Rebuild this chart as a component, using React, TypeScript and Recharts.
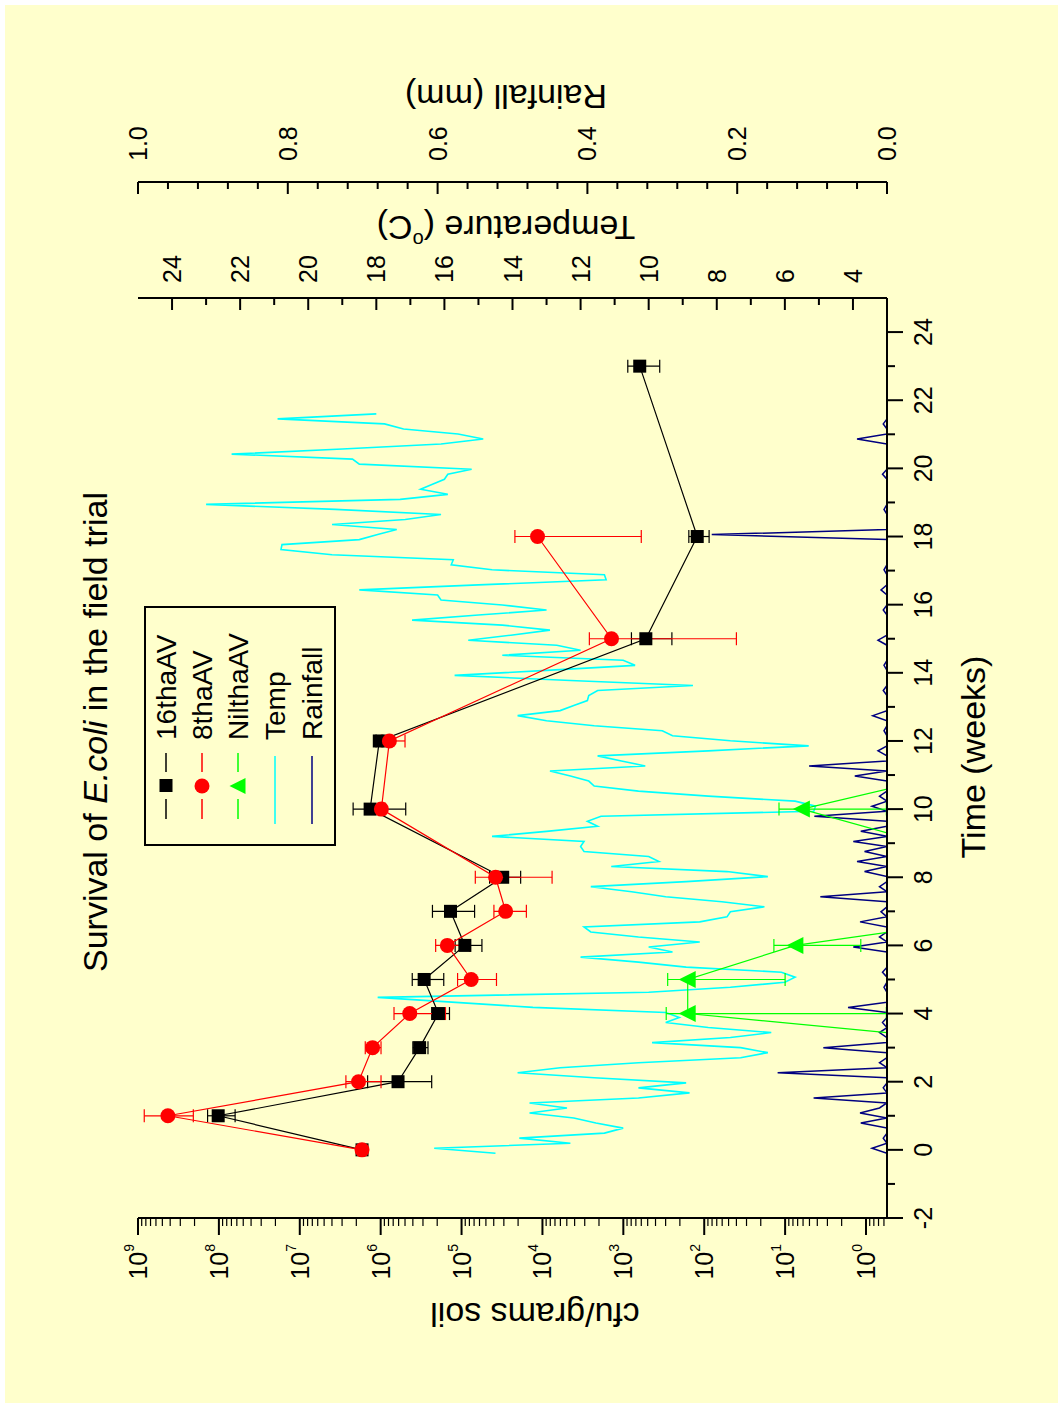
import React from 'react';
import { ComposedChart, Line, XAxis, YAxis, ErrorBar } from 'recharts';

const FONT = '"Liberation Sans", Arial, Helvetica, sans-serif';
const BG = '#FFFFCC';

// ---- cfu series (weeks, mean, lower error, upper error) ----
const weeks16 = [0, 1, 2, 3, 4, 5, 6, 7, 8, 10, 12, 15, 18, 23];
const cfu16 = [1.7e6, 1.02e8, 6.1e5, 3.3e5, 1.93e5, 2.9e5, 9.1e4, 1.37e5, 3.1e4, 1.35e6, 1.04e6, 527, 122, 627];
const err16Low = [null, 3.9e7, 3.76e5, 7e4, 5.2e4, 1.24e5, 3.5e4, 6.8e4, 1.24e4, 8.6e5, 1e5, 276, 35, 272];
const err16High = [null, 3.6e7, 8.4e5, 7e4, 4.1e4, 1.17e5, 2.9e4, 9.2e4, 1.4e4, 8.4e5, 1e5, 267, 33, 254];

const weeks8 = [0, 1, 2, 3, 4, 5, 6, 7, 8, 10, 12, 15, 18];
const cfu8 = [1.7e6, 4.27e8, 1.88e6, 1.26e6, 4.37e5, 7.6e4, 1.5e5, 2.85e4, 3.8e4, 9.8e5, 7.8e5, 1.4e3, 1.15e4];
const err8Low = [null, 2.2e8, 8.9e5, 2.7e5, 2.79e5, 3.9e4, 7.1e4, 1.27e4, 3.04e4, 1e5, 2.8e5, 1.36e3, 1.09e4];
const err8High = [null, 4.1e8, 8.1e5, 2.9e5, 2.47e5, 3.6e4, 5.9e4, 1.13e4, 2.96e4, 1e5, 2e5, 1.23e3, 1.04e4];

const weeksNil = [3, 4, 5, 6, 7, 9, 10, 11];
const cfuNil = [0.006, 160, 160, 7.46, 0.008, 0.19, 6.2, 0.1];
const errNilLow = [null, 159.44, 150, 6.3, null, null, 5.64, null];
const errNilHigh = [null, 135, 123, 6.3, null, null, 5.7, null];

// ---- daily weather series ----
const TEMP_START_WEEK = -0.1;
const TEMP_END_WEEK = 21.6;
const temperature = [
  14.5, 16.3, 12.3, 13.8, 11.3, 10.75, 11.55, 12.2, 13.5, 12.4,
  13.5, 10.3, 8.8, 10.3, 8.9, 11.6, 13.85, 12.6, 10.3, 7.3,
  6.5, 7.3, 9.9, 7.6, 6.4, 8.25, 9.5, 9.1, 9.5, 13.4,
  15.67, 17.96, 10.0, 7.6, 6.0, 5.7, 6.1, 8.9, 10.3, 12.0,
  9.3, 10.0, 8.5, 10.3, 11.7, 11.9, 8.5, 7.7, 7.6, 6.6,
  7.85, 9.5, 10.5, 11.7, 8.9, 6.5, 7.7, 11.1, 9.7, 10.0,
  11.9, 12.0, 11.9, 14.6, 13.0, 11.5, 11.8, 11.4, 5.15, 5.1,
  5.7, 8.25, 10.3, 11.6, 11.76, 12.3, 12.9, 10.1, 10.8, 11.5,
  8.25, 5.3, 7.6, 9.3, 9.6, 11.6, 13.0, 13.85, 12.6, 12.2,
  11.8, 11.76, 11.5, 8.7, 12.3, 15.7, 13.0, 10.4, 10.75, 14.3,
  12.0, 12.7, 15.3, 14.05, 12.9, 14.3, 16.95, 15.0, 13.0, 14.3,
  16.1, 16.2, 18.5, 15.0, 11.25, 11.3, 14.6, 15.8, 15.74, 19.3,
  20.8, 20.77, 18.5, 17.96, 17.4, 19.3, 17.15, 16.1, 19.2, 23.0,
  17.3, 15.9, 16.7, 16.35, 16.0, 15.9, 15.2, 18.5, 18.7, 22.25,
  19.0, 16.1, 14.86, 15.6, 17.2, 17.76, 20.9, 18.0,
];
const rainfall = [
  0, 0.02, 0, 0.005, 0, 0, 0.035, 0, 0.036, 0.01,
  0, 0.098, 0, 0.005, 0, 0, 0.146, 0, 0.01, 0,
  0, 0.085, 0, 0, 0.01, 0, 0.006, 0, 0, 0.052,
  0, 0, 0, 0.004, 0, 0, 0.006, 0, 0, 0,
  0, 0.045, 0, 0.01, 0, 0, 0.036, 0, 0.008, 0,
  0, 0.089, 0, 0.01, 0, 0, 0.03, 0, 0.04, 0,
  0.03, 0, 0.045, 0, 0.035, 0, 0, 0.097, 0, 0.02,
  0, 0.01, 0, 0, 0, 0.043, 0, 0.104, 0, 0,
  0.012, 0, 0, 0, 0.004, 0, 0, 0.019, 0, 0,
  0, 0, 0.005, 0, 0, 0, 0, 0.004, 0, 0,
  0, 0, 0.012, 0, 0, 0, 0, 0, 0.005, 0,
  0, 0, 0.008, 0, 0, 0, 0.004, 0, 0, 0,
  0, 0, 0, 0.234, 0, 0, 0, 0, 0.004, 0,
  0, 0, 0, 0, 0, 0.006, 0, 0, 0, 0,
  0, 0, 0.04, 0, 0, 0.005, 0, 0,
];

// ---- axis ticks ----
const timeMajor = [-2, 0, 2, 4, 6, 8, 10, 12, 14, 16, 18, 20, 22, 24];
const timeMinor = [-1, 1, 3, 5, 7, 9, 11, 13, 15, 17, 19, 21, 23];
const cfuExponents = [0, 1, 2, 3, 4, 5, 6, 7, 8, 9];
const cfuMinorMultipliers = [2, 3, 4, 5, 6, 7, 8, 9];
const tempMajor = [4, 6, 8, 10, 12, 14, 16, 18, 20, 22, 24];
const tempMinor = [5, 7, 9, 11, 13, 15, 17, 19, 21, 23];
const rainMajor = [0, 0.2, 0.4, 0.6, 0.8, 1.0];
const rainMinor = [0.04, 0.08, 0.12, 0.16, 0.24, 0.28, 0.32, 0.36, 0.44, 0.48, 0.52, 0.56, 0.64, 0.68, 0.72, 0.76, 0.84, 0.88, 0.92, 0.96];

const TIME_DOMAIN: [number, number] = [-2, 25];
const CFU_DOMAIN: [number, number] = [0.55, 1e9];
const TEMP_DOMAIN: [number, number] = [3, 25];
const RAIN_DOMAIN: [number, number] = [0, 1];

// ---- tables built from the arrays ----
const timeTicks = [...timeMajor, ...timeMinor].sort((a, b) => a - b);
const cfuTicks: number[] = [];
for (let e = -1; e <= 8; e++) {
  cfuMinorMultipliers.forEach((m) => {
    const v = m * Math.pow(10, e);
    if (v >= CFU_DOMAIN[0] && v <= CFU_DOMAIN[1]) cfuTicks.push(v);
  });
}
cfuExponents.forEach((e) => cfuTicks.push(Math.pow(10, e)));
cfuTicks.sort((a, b) => a - b);
const tempTicks = [...tempMajor, ...tempMinor].sort((a, b) => a - b);
const rainTicks = [...rainMajor, ...rainMinor].sort((a, b) => a - b);

const build = (w: number[], v: number[], lo: (number | null)[], hi: (number | null)[]) =>
  w.map((week, i) => ({ week, v: v[i], err: lo[i] == null || hi[i] == null ? null : [lo[i], hi[i]] }));
const data16 = build(weeks16, cfu16, err16Low, err16High);
const data8 = build(weeks8, cfu8, err8Low, err8High);
const dataNil = build(weeksNil, cfuNil, errNilLow, errNilHigh);
const dayStep = (TEMP_END_WEEK - TEMP_START_WEEK) / (temperature.length - 1);
const tempData = temperature.map((t, i) => ({ week: TEMP_START_WEEK + i * dayStep, temp: t }));
const rainData = rainfall.map((r, i) => ({ week: TEMP_START_WEEK + i * dayStep, rain: r }));

const isIn = (arr: number[], v: number) => arr.some((a) => Math.abs(a - v) < 1e-9);

// ---- tick renderers ----
const TimeTick = (props: any) => {
  const { x, y, payload } = props;
  const v = payload.value;
  const major = isIn(timeMajor, v);
  return (
    <g>
      <line x1={x} x2={x} y1={y} y2={y + (major ? 16 : 8)} stroke="#000" strokeWidth={2} />
      {major && (
        <text x={x} y={y + 45} textAnchor="middle" fontSize={25} fontFamily={FONT} fill="#000">
          {v}
        </text>
      )}
    </g>
  );
};

const TopTick = (props: any) => {
  const { x, y, payload } = props;
  const major = isIn(timeMajor, payload.value);
  return <line x1={x} x2={x} y1={y} y2={y + (major ? 7 : 4)} stroke="#000" strokeWidth={1.5} />;
};

const CfuTick = (props: any) => {
  const { x, y, payload } = props;
  const v = payload.value;
  const e = Math.log10(v);
  const major = Math.abs(e - Math.round(e)) < 1e-6;
  return (
    <g>
      <line x1={x} x2={x - (major ? 17 : 8)} y1={y} y2={y} stroke="#000" strokeWidth={major ? 2 : 1.2} />
      {major && (
        <text x={x - 26} y={y + 9} textAnchor="end" fontSize={25} fontFamily={FONT} fill="#000">
          10<tspan dy={-13} fontSize={14}>{Math.round(e)}</tspan>
        </text>
      )}
    </g>
  );
};

const TempTick = (props: any) => {
  const { x, y, payload } = props;
  const v = payload.value;
  const major = isIn(tempMajor, v);
  return (
    <g>
      <line x1={x} x2={x - (major ? 12 : 7)} y1={y} y2={y} stroke="#000" strokeWidth={2} />
      {major && (
        <text x={x + 15} y={y + 9} textAnchor="start" fontSize={25} fontFamily={FONT} fill="#000">
          {v}
        </text>
      )}
    </g>
  );
};

const RainTick = (props: any) => {
  const { x, y, payload } = props;
  const v = payload.value;
  const major = isIn(rainMajor, v);
  return (
    <g>
      <line x1={x} x2={x - (major ? 12 : 7)} y1={y} y2={y} stroke="#000" strokeWidth={2} />
      {major && (
        <text x={x + 21} y={y + 9} textAnchor="start" fontSize={25} fontFamily={FONT} fill="#000">
          {v.toFixed(1)}
        </text>
      )}
    </g>
  );
};

// ---- markers ----
const SquareDot = (props: any) => {
  const { cx, cy, index } = props;
  if (!Number.isFinite(cx) || !Number.isFinite(cy)) return <g key={index} />;
  return <rect key={index} x={cx - 6.5} y={cy - 6.5} width={13} height={13} fill="#000" />;
};
const CircleDot = (props: any) => {
  const { cx, cy, index } = props;
  if (!Number.isFinite(cx) || !Number.isFinite(cy)) return <g key={index} />;
  return <circle key={index} cx={cx} cy={cy} r={7.5} fill="#FF0000" />;
};
const TriangleDot = (props: any) => {
  const { cx, cy, index } = props;
  if (!Number.isFinite(cx) || !Number.isFinite(cy)) return <g key={index} />;
  return <polygon key={index} points={`${cx},${cy - 9} ${cx + 8.5},${cy + 8} ${cx - 8.5},${cy + 8}`} fill="#00FF00" />;
};

const legendItems = [
  { name: '16thaAV', color: '#000000', marker: 'square' },
  { name: '8thaAV', color: '#FF0000', marker: 'circle' },
  { name: 'NilthaAV', color: '#00FF00', marker: 'triangle' },
  { name: 'Temp', color: '#00FFFF', marker: 'none' },
  { name: 'Rainfall', color: '#000080', marker: 'none' },
];
const legendRowY = [166, 202, 238, 275, 312];

const Overlay = () => (
  <svg width={1408} height={1063} style={{ position: 'absolute', left: 0, top: 0, pointerEvents: 'none' }}>
    <text x={676} y={95} textAnchor="middle" dominantBaseline="central" fontSize={34} fontFamily={FONT} fill="#000">
      Survival of <tspan fontStyle="italic">E.coli</tspan> in the field trial
    </text>
    <text x={651} y={973} textAnchor="middle" dominantBaseline="central" fontSize={34} fontFamily={FONT} fill="#000">
      Time (weeks)
    </text>
    <text transform="translate(93,535) rotate(-90)" textAnchor="middle" dominantBaseline="central" fontSize={34} fontFamily={FONT} fill="#000">
      cfu/grams soil
    </text>
    <text transform="translate(1180,506) rotate(-90)" textAnchor="middle" dominantBaseline="central" fontSize={34} fontFamily={FONT} fill="#000">
      Temperature (<tspan dy={-12} fontSize={20}>o</tspan><tspan dy={12}>C)</tspan>
    </text>
    <text transform="translate(1311,506) rotate(-90)" textAnchor="middle" dominantBaseline="central" fontSize={34} fontFamily={FONT} fill="#000">
      Rainfall (mm)
    </text>
    <rect x={563} y={145} width={238} height={190} fill="none" stroke="#000" strokeWidth={2} />
    {legendItems.map((it, i) => {
      const y = legendRowY[i];
      return (
        <g key={it.name}>
          {it.marker === 'none' ? (
            <line x1={584} x2={652} y1={y} y2={y} stroke={it.color} strokeWidth={1.5} />
          ) : (
            <>
              <line x1={589} x2={609} y1={y} y2={y} stroke={it.color} strokeWidth={1.5} />
              <line x1={636} x2={655} y1={y} y2={y} stroke={it.color} strokeWidth={1.5} />
            </>
          )}
          {it.marker === 'square' && <rect x={616} y={y - 6.5} width={13} height={13} fill={it.color} />}
          {it.marker === 'circle' && <circle cx={622} cy={y} r={7.5} fill={it.color} />}
          {it.marker === 'triangle' && (
            <polygon points={`622,${y - 8.5} 630,${y + 7.5} 614,${y + 7.5}`} fill={it.color} />
          )}
          <text x={668} y={y} dominantBaseline="central" fontSize={28} fontFamily={FONT} fill="#000">
            {it.name}
          </text>
        </g>
      );
    })}
  </svg>
);

export default function App() {
  return (
    <div style={{ position: 'absolute', left: 0, top: 0, width: 1063, height: 1408, background: '#FFFFFF', overflow: 'hidden' }}>
      <div style={{ position: 'absolute', left: 5, top: 5, width: 1053, height: 1398, background: BG }} />
      <div
        style={{
          position: 'absolute',
          left: 0,
          top: 0,
          width: 1408,
          height: 1063,
          transformOrigin: '0 0',
          transform: 'translate(0px, 1408px) rotate(-90deg)',
        }}
      >
        <ComposedChart width={1408} height={1063} margin={{ top: 138, right: 32, bottom: 0, left: 0 }}>
          <XAxis
            xAxisId="t"
            dataKey="week"
            type="number"
            domain={TIME_DOMAIN}
            allowDataOverflow
            ticks={timeTicks}
            interval={0}
            height={176}
            tickSize={0}
            tickMargin={0}
            tick={TimeTick}
            axisLine={{ stroke: '#000', strokeWidth: 2 }}
            tickLine={false}
          />
          <XAxis
            xAxisId="top"
            orientation="top"
            dataKey="week"
            type="number"
            domain={TIME_DOMAIN}
            allowDataOverflow
            ticks={timeTicks}
            interval={0}
            height={0}
            tickSize={0}
            tickMargin={0}
            tick={TopTick}
            axisLine={{ stroke: '#000', strokeWidth: 2 }}
            tickLine={false}
          />
          <YAxis
            yAxisId="cfu"
            orientation="left"
            scale="log"
            type="number"
            domain={CFU_DOMAIN}
            allowDataOverflow
            ticks={cfuTicks}
            interval={0}
            width={190}
            tickSize={0}
            tickMargin={0}
            tick={CfuTick}
            axisLine={{ stroke: '#000', strokeWidth: 2 }}
            tickLine={false}
          />
          <YAxis
            yAxisId="r1"
            orientation="right"
            type="number"
            domain={TEMP_DOMAIN}
            allowDataOverflow
            ticks={tempTicks}
            interval={0}
            width={116}
            tickSize={0}
            tickMargin={0}
            tick={TempTick}
            axisLine={{ stroke: '#000', strokeWidth: 2 }}
            tickLine={false}
          />
          <YAxis
            yAxisId="r2"
            orientation="right"
            type="number"
            domain={RAIN_DOMAIN}
            allowDataOverflow
            ticks={rainTicks}
            interval={0}
            width={150}
            tickSize={0}
            tickMargin={0}
            tick={RainTick}
            axisLine={{ stroke: '#000', strokeWidth: 2 }}
            tickLine={false}
          />
          <Line
            xAxisId="t"
            yAxisId="r1"
            data={tempData}
            dataKey="temp"
            type="linear"
            stroke="#00FFFF"
            strokeWidth={1.6}
            dot={false}
            isAnimationActive={false}
          />
          <Line
            xAxisId="t"
            yAxisId="r2"
            data={rainData}
            dataKey="rain"
            type="linear"
            stroke="#000080"
            strokeWidth={1.5}
            dot={false}
            isAnimationActive={false}
          />
          <Line
            xAxisId="t"
            yAxisId="cfu"
            data={data16}
            dataKey="v"
            type="linear"
            stroke="#000000"
            strokeWidth={1.2}
            dot={SquareDot}
            isAnimationActive={false}
          >
            <ErrorBar dataKey="err" direction="y" width={6.5} stroke="#000000" strokeWidth={1.2} />
          </Line>
          <Line
            xAxisId="t"
            yAxisId="cfu"
            data={data8}
            dataKey="v"
            type="linear"
            stroke="#FF0000"
            strokeWidth={1.2}
            dot={CircleDot}
            isAnimationActive={false}
          >
            <ErrorBar dataKey="err" direction="y" width={6.5} stroke="#FF0000" strokeWidth={1.2} />
          </Line>
          <Line
            xAxisId="t"
            yAxisId="cfu"
            data={dataNil}
            dataKey="v"
            type="linear"
            stroke="#00FF00"
            strokeWidth={1.2}
            dot={TriangleDot}
            isAnimationActive={false}
          >
            <ErrorBar dataKey="err" direction="y" width={6.5} stroke="#00FF00" strokeWidth={1.2} />
          </Line>
        </ComposedChart>
        <Overlay />
      </div>
    </div>
  );
}
